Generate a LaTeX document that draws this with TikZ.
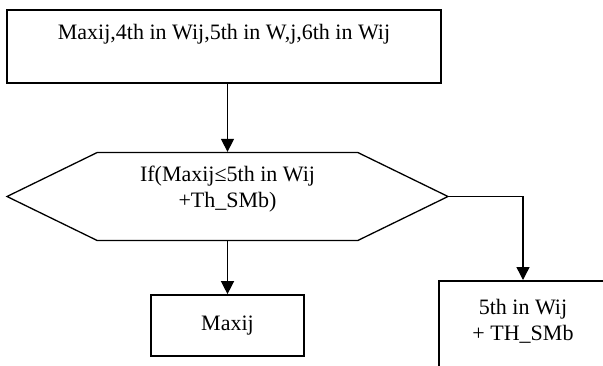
\documentclass[tikz,border=0pt]{standalone}
\usepackage{fontspec}
\setmainfont{Liberation Serif}
\usetikzlibrary{arrows.meta,positioning,shapes.symbols}
\tikzset{
    box/.style =    {rectangle,
                    fill=white,
                    draw=black,
                    text=black,
                    line width=1.7pt,
                    align=center,
                    font=\fontsize{22}{26}\selectfont},
    test/.style =   {signal,
                    signal to=east and west,
                    signal pointer angle=52,
                    draw=black,
                    text=black,
                    line width=1.3pt,
                    align=center,
                    minimum width=441pt,
                    minimum height=88pt,
                    font=\fontsize{22}{26}\selectfont},
    -,
    >={Triangle[width=13pt,length=13pt]},
    flow/.style =   {line width=1.4pt,->}}
\begin{document}
\begin{tikzpicture}
                \useasboundingbox (0,0) rectangle (603pt,-365pt);
                \clip (0,0) rectangle (603pt,-365pt);
                \node[box,minimum width=434pt,minimum height=73pt,text height=13pt,text depth=27pt]
                                    (all) at (224pt,-46.5pt)    {Maxij,4th in Wij,5th in W,j,6th in Wij};
                \node[test]         (cmp) [below=68pt of all,xshift=3.5pt]
                                    {If(Maxij≤5th in Wij\\+Th\_SMb)\rule[-19pt]{0pt}{0pt}};
                \node[box,minimum width=153pt,minimum height=61pt]
                                    (max) [below=53pt of cmp]   {Maxij};
                \node[box,anchor=north,minimum width=168pt,minimum height=110pt]
                                    (fifth) at (523pt,-280pt)   {5th in Wij\\+ TH\_SMb\rule[-31pt]{0pt}{0pt}};

                \draw [flow]    (all.south -| cmp.north) -- (cmp.north);
                \draw [flow]    (cmp.south) -- (max.north);
                \draw [flow]    (cmp.east) -| (fifth.north);
        \end{tikzpicture}
\end{document}
